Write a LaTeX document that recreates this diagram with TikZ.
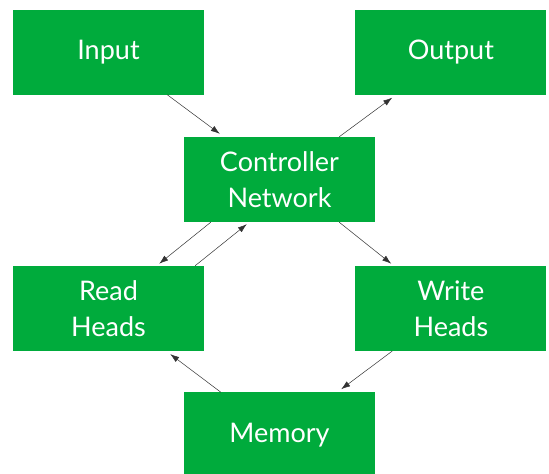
\documentclass[tikz,border=0pt]{standalone}
\usepackage{fontspec}
\setmainfont{Lato}
\usepackage{tikz}
\usetikzlibrary{arrows.meta,positioning}
\definecolor{boxgreen}{RGB}{0,171,60}

\begin{document}
\begin{tikzpicture}[x=1pt, y=-1pt, node distance=151pt, >={Latex[length=9pt,width=6pt]}]
\tikzstyle{blk}=[fill=boxgreen, minimum width=191pt, minimum height=85pt, inner sep=0pt, text=white, align=center, font=\fontsize{27}{36}\selectfont]
\tikzstyle{link}=[->, line width=0.5pt, draw=black!80]
\useasboundingbox (0,0) rectangle (549,474);

\node[blk] (in) at (108.5,52) {Input};
\node[blk, right=151pt of in] (out) {Output};
\node[blk] (ctrl) at (279.5,179.5) {Controller\\Network};
\node[blk, below=171pt of in] (read) {Read\\Heads};
\node[blk, below=171pt of out] (write) {Write\\Heads};
\node[blk, below=170pt of ctrl] (mem) {Memory};

\draw[link] ([xshift=-37pt]in.south east) -- ([xshift=36pt,yshift=3pt]ctrl.north west);
\draw[link] ([xshift=-36pt]ctrl.north east) -- ([xshift=37pt,yshift=-3pt]out.south west);
\draw[link] ([xshift=27pt]ctrl.south west) -- ([xshift=-45pt,yshift=2pt]read.north east);
\draw[link] ([xshift=-9pt]read.north east) -- ([xshift=63pt,yshift=-2pt]ctrl.south west);
\draw[link] ([xshift=-36pt]ctrl.south east) -- ([xshift=36pt,yshift=2pt]write.north west);
\draw[link] ([xshift=37pt]write.south west) -- ([xshift=-34pt,yshift=3pt]mem.north east);
\draw[link] ([xshift=37pt]mem.north west) -- ([xshift=-34pt,yshift=-3pt]read.south east);
\end{tikzpicture}
\end{document}
